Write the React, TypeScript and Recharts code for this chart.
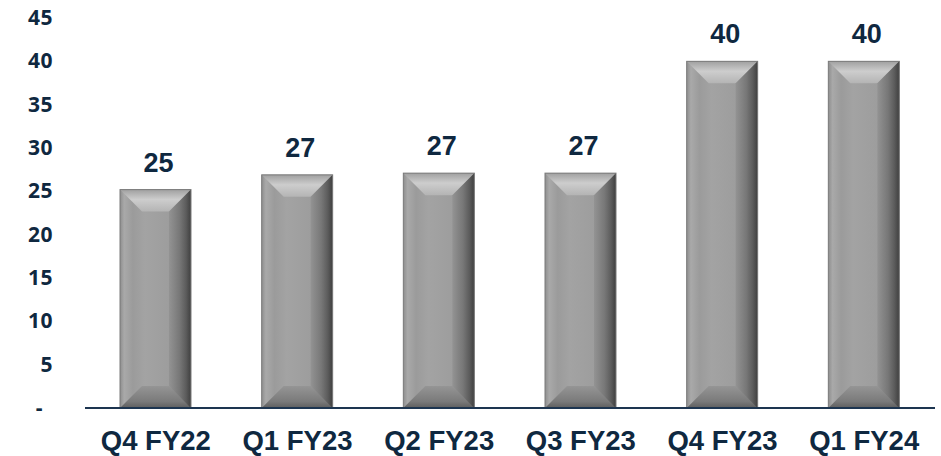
import React from "react";
import { BarChart, Bar, XAxis, YAxis, LabelList } from "recharts";

const categories = ["Q4 FY22", "Q1 FY23", "Q2 FY23", "Q3 FY23", "Q4 FY23", "Q1 FY24"];
const values = [25.2, 26.9, 27.1, 27.1, 40.0, 40.0];
const yTicks = [0, 5, 10, 15, 20, 25, 30, 35, 40, 45];

const data = categories.map((c, i) => ({ name: c, value: values[i] }));

const NAVY = "#0f2840";

const BevelBar = (props: any) => {
  const { x, y, width, height } = props;
  if (!height || height <= 0) return null;
  const b = Math.min(22, width / 3, height / 3);
  return (
    <g>
      <rect x={x} y={y} width={width} height={height} fill="url(#bodyGrad)" />
      <polygon
        points={`${x},${y} ${x + width},${y} ${x + width - b},${y + b} ${x + b},${y + b}`}
        fill="url(#topGrad)"
      />
      <polygon
        points={`${x},${y + height} ${x + width},${y + height} ${x + width - b},${y + height - b} ${x + b},${y + height - b}`}
        fill="url(#botGrad)"
      />
      <polygon
        points={`${x + width},${y} ${x + width},${y + height} ${x + width - b},${y + height - b} ${x + width - b},${y + b}`}
        fill="url(#rightGrad)"
        opacity={0.55}
      />
      <rect x={x} y={y} width={width} height={height} fill="none" stroke="#7a7a7a" strokeWidth={1} />
    </g>
  );
};

const YTick = (props: any) => {
  const { x, y, payload } = props;
  const isZero = payload.value === 0;
  return (
    <text
      x={isZero ? x - 10 : x}
      y={y}
      dy={7}
      textAnchor="end"
      fill={NAVY}
      fontFamily="'Open Sans', sans-serif"
      fontWeight={700}
      fontSize={21}
      letterSpacing={0.5}
    >
      {isZero ? "-" : payload.value}
    </text>
  );
};

const XTick = (props: any) => {
  const { x, y, payload } = props;
  return (
    <text
      x={x}
      y={y}
      dy={42}
      textAnchor="middle"
      fill={NAVY}
      fontFamily="'Liberation Sans', Arial, sans-serif"
      fontWeight={700}
      fontSize={27.5}
    >
      {payload.value}
    </text>
  );
};

const ValueLabel = (props: any) => {
  const { x, y, width, value } = props;
  return (
    <text
      x={x + width / 2 + 3}
      y={y - 18}
      textAnchor="middle"
      fill={NAVY}
      fontFamily="'Liberation Sans', Arial, sans-serif"
      fontWeight={700}
      fontSize={27}
    >
      {Math.round(value)}
    </text>
  );
};

export default function App() {
  return (
    <div style={{ position: "absolute", left: 0, top: 0, width: 941, height: 456, background: "#fff" }}>
      <BarChart
        width={941}
        height={456}
        data={data}
        margin={{ top: 18, right: 6, left: 0, bottom: 0 }}
        barSize={71}
      >
        <defs>
          <linearGradient id="bodyGrad" x1="0" y1="0" x2="1" y2="0">
            <stop offset="0" stopColor="#8e8e8e" />
            <stop offset="0.06" stopColor="#a9a9a9" />
            <stop offset="0.18" stopColor="#9b9b9b" />
            <stop offset="0.35" stopColor="#a3a3a3" />
            <stop offset="0.7" stopColor="#9d9d9d" />
            <stop offset="0.84" stopColor="#8c8c8c" />
            <stop offset="0.93" stopColor="#6a6a6a" />
            <stop offset="1" stopColor="#3e3e3e" />
          </linearGradient>
          <linearGradient id="topGrad" x1="0" y1="0" x2="0" y2="1">
            <stop offset="0" stopColor="#a0a0a0" />
            <stop offset="0.45" stopColor="#cdcdcd" />
            <stop offset="1" stopColor="#b4b4b4" />
          </linearGradient>
          <linearGradient id="botGrad" x1="0" y1="0" x2="0" y2="1">
            <stop offset="0" stopColor="#959595" />
            <stop offset="0.7" stopColor="#7a7a7a" />
            <stop offset="1" stopColor="#5e5e5e" />
          </linearGradient>
          <linearGradient id="rightGrad" x1="0" y1="0" x2="1" y2="0">
            <stop offset="0" stopColor="#8a8a8a" />
            <stop offset="1" stopColor="#404040" />
          </linearGradient>
        </defs>
        <XAxis
          dataKey="name"
          height={48}
          axisLine={{ stroke: "#1d3550", strokeWidth: 2 }}
          tickLine={false}
          tickSize={0}
          tickMargin={0}
          tick={<XTick />}
          interval={0}
        />
        <YAxis
          width={85}
          domain={[0, 45]}
          ticks={yTicks}
          axisLine={false}
          tickLine={false}
          tickSize={0}
          tickMargin={32}
          tick={<YTick />}
          interval={0}
        />
        <Bar dataKey="value" shape={<BevelBar />} isAnimationActive={false}>
          <LabelList dataKey="value" content={<ValueLabel />} />
        </Bar>
      </BarChart>
    </div>
  );
}
